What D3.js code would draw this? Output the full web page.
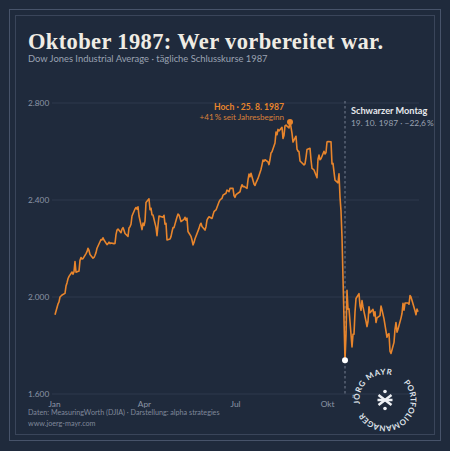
<!DOCTYPE html>
<html>
<head>
<meta charset="utf-8">
<script src="https://cdn.jsdelivr.net/npm/d3@7"></script>
<style>
  html, body { margin: 0; padding: 0; background: #1f2a3c; }
  svg { display: block; }
</style>
</head>
<body>
<div class="container"></div>
<script>
var width = 450;
var height = 451;

// DJIA daily closes 1987, one array per month (trading days in order)
var jan = [1927, 1971, 1980, 2000, 2004, 2008, 2015, 2045, 2058, 2075, 2085, 2103, 2094, 2104, 2146, 2102, 2107, 2151, 2163, 2157, 2158];
var feb = [2179, 2187, 2201, 2192, 2175, 2160, 2163, 2172, 2183, 2201, 2237, 2235, 2244, 2235, 2216, 2220, 2226, 2220, 2223];
var mar = [2220, 2221, 2257, 2276, 2280, 2265, 2280, 2286, 2275, 2262, 2250, 2285, 2290, 2300, 2334, 2363, 2369, 2362, 2372, 2335, 2278, 2305];
var apr = [2295, 2313, 2390, 2405, 2360, 2366, 2339, 2338, 2287, 2253, 2296, 2334, 2329, 2337, 2300, 2304, 2235, 2239, 2249, 2269, 2286];
var may = [2286, 2330, 2342, 2338, 2326, 2311, 2320, 2329, 2317, 2325, 2270, 2250, 2235, 2215, 2225, 2240, 2283, 2297, 2304, 2291];
var jun = [2276, 2290, 2317, 2325, 2331, 2324, 2338, 2352, 2356, 2359, 2392, 2400, 2404, 2407, 2420, 2428, 2441, 2438, 2434, 2448, 2448, 2418];
var jul = [2411, 2422, 2434, 2451, 2463, 2455, 2456, 2448, 2483, 2507, 2496, 2510, 2466, 2460, 2471, 2480, 2489, 2526, 2545, 2565, 2560, 2566];
var aug = [2557, 2546, 2567, 2594, 2599, 2635, 2680, 2669, 2691, 2685, 2700, 2654, 2666, 2706, 2709, 2697, 2722, 2701, 2675, 2639, 2663];
var sep = [2610, 2602, 2599, 2561, 2545, 2549, 2576, 2608, 2613, 2566, 2530, 2527, 2524, 2492, 2568, 2585, 2566, 2570, 2601, 2590, 2596];
var oct = [2639, 2641, 2640, 2549, 2551, 2516, 2482, 2471, 2508, 2412, 2355, 2247, 1739, 1841, 2028, 1950, 1951, 1794, 1846, 1847, 1938, 1994];
var nov = [2014, 1964, 1945, 1985, 1959, 1900, 1878, 1899, 1960, 1935, 1949, 1922, 1939, 1895, 1914, 1923, 1963, 1947, 1910, 1834];
var dec = [1846, 1849, 1777, 1767, 1813, 1867, 1895, 1855, 1867, 1913, 1932, 1974, 1946, 1975, 1975, 1970, 2006, 2000, 1943, 1927, 1950, 1939];

var months = [jan, feb, mar, apr, may, jun, jul, aug, sep, oct, nov, dec];
var holidays = ['1987-01-01', '1987-02-16', '1987-04-17', '1987-05-25', '1987-07-03', '1987-09-07', '1987-11-26', '1987-12-25'];

var yTicks = [1600, 2000, 2400, 2800];
var xTickDates = ['1987-01-01', '1987-04-01', '1987-07-01', '1987-10-01'];
var xTickLabels = ['Jan', 'Apr', 'Jul', 'Okt'];

var title = 'Oktober 1987: Wer vorbereitet war.';
var subtitle = 'Dow Jones Industrial Average \u00b7 t\u00e4gliche Schlusskurse 1987';
var peakLabel = 'Hoch \u00b7 25. 8. 1987';
var peakSub = '+41\u2009% seit Jahresbeginn';
var crashLabel = 'Schwarzer Montag';
var crashSub = '19. 10. 1987 \u00b7 \u221222,6\u2009%';
var crashDate = '1987-10-19';
var source = 'Daten: MeasuringWorth (DJIA) \u00b7 Darstellung: alpha strategies';
var web = 'www.joerg-mayr.com';

var orange = '#e8852c';
var bg = '#1f2a3c';

var parse = d3.utcParse('%Y-%m-%d');
var fmtDay = d3.utcFormat('%Y-%m-%d');

// pair each monthly value with its trading day
var buildData = function() {
    var out = [];
    months.forEach(function(vals, m) {
        var days = d3.utcDays(Date.UTC(1987, m, 1), Date.UTC(1987, m + 1, 1)).filter(function(d) {
            var wd = d.getUTCDay();
            return wd !== 0 && wd !== 6 && holidays.indexOf(fmtDay(d)) < 0;
        });
        vals.forEach(function(v, i) {
            out.push({date: days[i], value: v});
        });
    });
    return out;
};

var data = buildData();

var de = d3.formatLocale({decimal: ',', thousands: '.', grouping: [3], currency: ['', ' \u20ac']});

var x = d3.scaleUtc()
    .domain([parse('1987-01-01'), parse('1987-12-31')])
    .range([54, 418]);

var y = d3.scaleLinear()
    .domain([1600, 2800])
    .range([394, 103]);

var svg = d3.select('.container').append('svg')
    .attr('width', width)
    .attr('height', height)
    .attr('font-family', 'Lato, "Open Sans", sans-serif');

svg.append('rect').attr('width', width).attr('height', height).attr('fill', bg);

// double frame
svg.append('rect').attr('x', 9.5).attr('y', 9.5).attr('width', 431).attr('height', 431)
    .attr('fill', 'none').attr('stroke', '#47536a').attr('stroke-width', 1);
svg.append('rect').attr('x', 15.5).attr('y', 15.5).attr('width', 419).attr('height', 419)
    .attr('fill', 'none').attr('stroke', '#3a455a').attr('stroke-width', 1);

// title block
svg.append('text').attr('x', 28).attr('y', 49)
    .attr('fill', '#efece4')
    .attr('font-family', '"Liberation Serif", "DejaVu Serif", serif')
    .attr('font-weight', 'bold')
    .attr('font-size', 22.5)
    .attr('textLength', 355)
    .text(title);

svg.append('text').attr('x', 28).attr('y', 62)
    .attr('fill', '#9aa2b2')
    .attr('font-size', 9.4)
    .text(subtitle);

// y axis with gridlines
var yAxis = d3.axisLeft(y)
    .tickValues(yTicks)
    .tickSize(0)
    .tickFormat(de.format(',d'));

var gy = svg.append('g').call(yAxis);
gy.select('.domain').remove();
gy.selectAll('text')
    .attr('x', 28).attr('text-anchor', 'start')
    .attr('fill', '#8c95a6').attr('font-size', 8.3)
    .attr('font-family', 'Lato, sans-serif');

svg.append('g').selectAll('line').data(yTicks).enter().append('line')
    .attr('x1', 52).attr('x2', 419)
    .attr('y1', function(d) { return y(d); })
    .attr('y2', function(d) { return y(d); })
    .attr('stroke', '#2e394d').attr('stroke-width', 1);

// x axis
var xAxis = d3.axisBottom(x)
    .tickValues(xTickDates.map(parse))
    .tickSize(0)
    .tickFormat(function(d, i) { return xTickLabels[i]; });

var gx = svg.append('g').attr('transform', 'translate(0,398)').call(xAxis);
gx.select('.domain').remove();
gx.selectAll('text')
    .attr('fill', '#8c95a6').attr('font-size', 8.3)
    .attr('font-family', 'Lato, sans-serif');

// crash marker line
var crash = data.filter(function(d) { return fmtDay(d.date) === crashDate; })[0];
svg.append('line')
    .attr('x1', x(crash.date)).attr('x2', x(crash.date))
    .attr('y1', 101).attr('y2', 394)
    .attr('stroke', '#7f889a').attr('stroke-width', 0.9)
    .attr('stroke-dasharray', '2.5,2.5');

// series
var line = d3.line()
    .x(function(d) { return x(d.date); })
    .y(function(d) { return y(d.value); });

svg.append('path')
    .datum(data)
    .attr('d', line)
    .attr('fill', 'none')
    .attr('stroke', orange)
    .attr('stroke-width', 1.6)
    .attr('stroke-linejoin', 'round');

// peak
var peak = data[d3.maxIndex(data, function(d) { return d.value; })];
svg.append('circle')
    .attr('cx', x(peak.date)).attr('cy', y(peak.value)).attr('r', 3)
    .attr('fill', orange);

svg.append('text').attr('x', 284).attr('y', 110)
    .attr('text-anchor', 'end').attr('fill', orange)
    .attr('font-weight', 'bold').attr('font-size', 8.6)
    .text(peakLabel);
svg.append('text').attr('x', 284).attr('y', 120)
    .attr('text-anchor', 'end').attr('fill', '#d9803a')
    .attr('font-size', 8.1)
    .text(peakSub);

// crash low
svg.append('circle')
    .attr('cx', x(crash.date)).attr('cy', y(crash.value)).attr('r', 3)
    .attr('fill', '#ffffff');

svg.append('text').attr('x', 351).attr('y', 114)
    .attr('fill', '#e6e8ec').attr('font-weight', 'bold').attr('font-size', 9.2)
    .text(crashLabel);
svg.append('text').attr('x', 351).attr('y', 126)
    .attr('fill', '#9aa2b2').attr('font-size', 8.4)
    .text(crashSub);

// footer
svg.append('text').attr('x', 28).attr('y', 415)
    .attr('fill', '#7f889a').attr('font-size', 7.2)
    .text(source);
svg.append('text').attr('x', 28).attr('y', 426)
    .attr('fill', '#7f889a').attr('font-size', 7.2)
    .text(web);

// round logo: path loops twice clockwise from the bottom so text can wrap past it
var logo = svg.append('g').attr('transform', 'translate(385,400)');
var r = 25.5;
var half = 'A' + r + ',' + r + ' 0 1,1 ';
logo.append('path')
    .attr('id', 'logoCircle')
    .attr('d', 'M0,' + r + ' ' + half + '0,' + (-r) + ' ' + half + '0,' + r + ' ' +
               half + '0,' + (-r) + ' ' + half + '0,' + r)
    .attr('fill', 'none');

var circ = 2 * Math.PI * r;
var offsetFor = function(angleFromTop) {
    var a = (angleFromTop - 180 + 360) % 360;
    return a / 360 * circ;
};

logo.append('text')
    .attr('fill', '#dfe3ea').attr('font-weight', 'bold').attr('font-size', 8)
    .attr('letter-spacing', 0.6)
    .append('textPath').attr('href', '#logoCircle')
    .attr('startOffset', offsetFor(-100))
    .text('J\u00d6RG MAYR');

logo.append('text')
    .attr('fill', '#dfe3ea').attr('font-weight', 'bold').attr('font-size', 8)
    .attr('letter-spacing', 0)
    .append('textPath').attr('href', '#logoCircle')
    .attr('startOffset', offsetFor(45))
    .text('PORTFOLIOMANAGER');

var icon = logo.append('g').attr('stroke', '#eef0f4').attr('stroke-width', 2.5).attr('stroke-linecap', 'butt');
icon.append('line').attr('x1', -7.5).attr('y1', 0).attr('x2', 7.5).attr('y2', 0);
icon.append('line').attr('x1', -6.5).attr('y1', -5).attr('x2', 6.5).attr('y2', 5);
icon.append('line').attr('x1', -6.5).attr('y1', 5).attr('x2', 6.5).attr('y2', -5);
logo.append('circle').attr('cx', 0).attr('cy', -8.5).attr('r', 1.8).attr('fill', '#eef0f4');
logo.append('circle').attr('cx', 0).attr('cy', 8.5).attr('r', 1.8).attr('fill', '#eef0f4');
</script>
</body>
</html>
